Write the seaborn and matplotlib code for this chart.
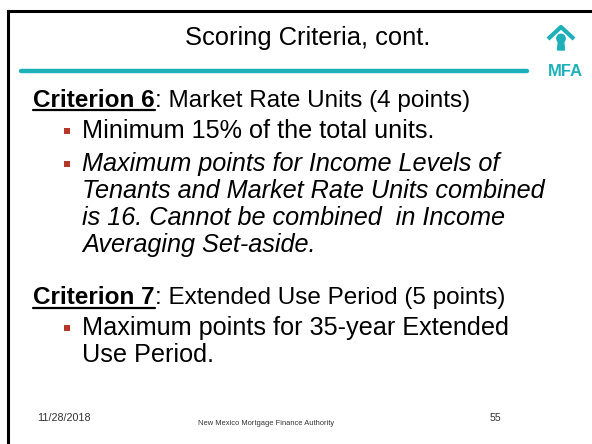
import matplotlib
matplotlib.use("Agg")
import matplotlib.pyplot as plt
import seaborn as sns
from matplotlib.patches import Circle, Polygon

# slide text
title = "Scoring Criteria, cont."
crit6_head = "Criterion 6"
crit6_rest = ": Market Rate Units (4 points)"
crit6_bullets = [
    ["Minimum 15% of the total units."],
    ["Maximum points for Income Levels of",
     "Tenants and Market Rate Units combined",
     "is 16. Cannot be combined  in Income",
     "Averaging Set-aside."],
]
crit6_italic = [False, True]
crit7_head = "Criterion 7"
crit7_rest = ": Extended Use Period (5 points)"
crit7_bullets = [["Maximum points for 35-year Extended", "Use Period."]]
crit7_italic = [False]
footer_date = "11/28/2018"
footer_org = "New Mexico Mortgage Finance Authority"
slide_num = "55"
logo_text = "MFA"

TEAL = "#1db0b8"
RED = "#b5372a"
W, H = 592, 444


def fs(px):
    # pixel em size -> points at 100 dpi
    return px * 0.72


sns.set_style("white")
plt.rcParams["font.family"] = ["Liberation Sans", "DejaVu Sans"]
plt.rcParams["text.color"] = "black"

fig = plt.figure(figsize=(W / 100, H / 100), dpi=100)
ax = fig.add_axes([0, 0, 1, 1])
ax.set_xlim(0, W)
ax.set_ylim(H, 0)
ax.axis("off")
renderer = fig.canvas.get_renderer()

# slide frame (left and top only)
ax.plot([7.5, 7.5], [H, 11], color="black", lw=2.2, solid_capstyle="projecting")
ax.plot([7.5, W], [11, 11], color="black", lw=2.2, solid_capstyle="projecting")

# title + rule
ax.text(308, 45, title, fontsize=fs(25.5), ha="center", va="baseline")
ax.plot([21, 527], [71.5, 71.5], color=TEAL, lw=3.2, solid_capstyle="round")

# logo
ax.plot([548, 561, 574], [39, 27, 39], color=TEAL, lw=3.0, solid_capstyle="butt")
ax.add_patch(Circle((561, 38.5), 4.2, color=TEAL))
ax.add_patch(Polygon([[558.5, 40], [563.5, 40], [564.5, 50], [557.5, 50]], closed=True, color=TEAL))
ax.text(565, 76.5, logo_text, fontsize=fs(16.5), fontweight="bold", ha="center",
        va="baseline", color=TEAL)


def heading(y, head, rest):
    t = ax.text(33, y, head, fontsize=fs(24.3), fontweight="bold", va="baseline")
    x_end = t.get_window_extent(renderer).x1
    ax.plot([33, x_end], [y + 3.5, y + 3.5], color="black", lw=1.6)
    ax.text(x_end, y, rest, fontsize=fs(24.3), va="baseline")


def bullets(y, items, italic):
    for lines, it in zip(items, italic):
        ax.scatter([67], [y - 7], marker="s", s=22, color=RED, linewidths=0)
        for line in lines:
            ax.text(82, y, line, fontsize=fs(25.2), va="baseline",
                    style="italic" if it else "normal")
            y += 27
        y += 6
    return y


heading(107, crit6_head, crit6_rest)
bullets(138, crit6_bullets, crit6_italic)
heading(304, crit7_head, crit7_rest)
bullets(335, crit7_bullets, crit7_italic)

# footer
ax.text(37, 421, footer_date, fontsize=fs(10.8), va="baseline", color="#333333")
ax.text(266, 425, footer_org, fontsize=fs(7.5), ha="center", va="baseline", color="#333333")
ax.text(490, 421, slide_num, fontsize=fs(10.5), va="baseline", color="#333333")

fig.savefig("out.png", dpi=100, facecolor="white")
